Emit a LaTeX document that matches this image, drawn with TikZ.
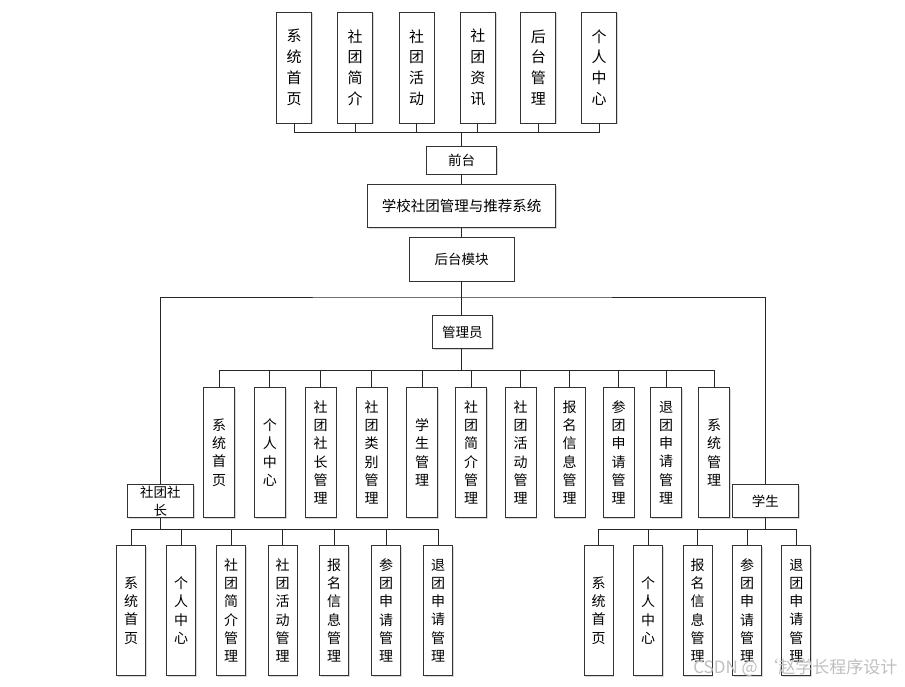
\documentclass[tikz,border=0pt]{standalone}
\usepackage{fontspec}
\setmainfont{Noto Sans CJK SC}
\usetikzlibrary{shadows}

\begin{document}
\begin{tikzpicture}[x=1pt,y=-1pt,
		box/.style={draw=black!80,line width=0.8pt,fill=white,inner sep=0pt,align=center,
			drop shadow={shadow xshift=1.2pt,shadow yshift=-1.2pt,fill=black!30,opacity=0.5}},
		topbox/.style={box,minimum width=35pt,minimum height=111pt,font=\fontsize{15}{20.8}\selectfont},
		subbox/.style={box,minimum width=31pt,minimum height=130pt,font=\fontsize{14}{18.3}\selectfont},
		leafbox/.style={box,minimum width=29pt,minimum height=130pt,font=\fontsize{14}{18.3}\selectfont},
		midbox/.style={box,font=\fontsize{13.5}{18.3}\selectfont},
		wire/.style={draw=black!85,line width=0.9pt}]
	\useasboundingbox (0,0) rectangle (905,686);
	% front end
	\foreach \x/\t [count=\i] in {294/系\\统\\首\\页,355/社\\团\\简\\介,416.7/社\\团\\活\\动,
			477.8/社\\团\\资\\讯,538.3/后\\台\\管\\理,599.2/个\\人\\中\\心}
		\node[topbox] (t\i) at (\x,67.5) {\t};
	\node[midbox,minimum width=70pt,minimum height=27.3pt] (qt) at (461.7,160.3) {前台};
	\node[midbox,minimum width=188pt,minimum height=43.3pt,font=\fontsize{14.5}{18}\selectfont] (xt) at (461.7,206) {学校社团管理与推荐系统};
	\node[midbox,minimum width=104.7pt,minimum height=43.3pt] (hm) at (461.7,259.3) {后台模块};
	\node[midbox,minimum width=60pt,minimum height=32.6pt] (gly) at (462.3,332) {管理员};
	\node[midbox,minimum width=66pt,minimum height=33.4pt] (stz) at (160.3,501) {社团社\\长};
	\node[midbox,minimum width=66pt,minimum height=33.4pt] (xs) at (765.3,501) {学生};
	% admin modules
	\foreach \x/\t [count=\i] in {219/系\\统\\首\\页,269.8/个\\人\\中\\心,320.5/社\\团\\社\\长\\管\\理,
			371.5/社\\团\\类\\别\\管\\理,422/学\\生\\管\\理,471/社\\团\\简\\介\\管\\理,
			520.5/社\\团\\活\\动\\管\\理,569.5/报\\名\\信\\息\\管\\理,618.5/参\\团\\申\\请\\管\\理,
			666/退\\团\\申\\请\\管\\理,714/系\\统\\管\\理}
		\node[subbox] (a\i) at (\x,452.5) {\t};
	% club leader modules
	\foreach \x/\t [count=\i] in {131/系\\统\\首\\页,181/个\\人\\中\\心,231/社\\团\\简\\介\\管\\理,
			282.5/社\\团\\活\\动\\管\\理,334/报\\名\\信\\息\\管\\理,386/参\\团\\申\\请\\管\\理,
			438/退\\团\\申\\请\\管\\理}
		\node[leafbox] (l\i) at (\x,610.5) {\t};
	% student modules
	\foreach \x/\t [count=\i] in {598.7/系\\统\\首\\页,648/个\\人\\中\\心,697.5/报\\名\\信\\息\\管\\理,
			747/参\\团\\申\\请\\管\\理,796.3/退\\团\\申\\请\\管\\理}
		\node[leafbox] (r\i) at (\x,610.5) {\t};
	% buses
	\coordinate (tbus) at (461.7,132);
	\coordinate (mbus) at (461.7,297);
	\coordinate (abus) at (461.7,370.7);
	\coordinate (lbus) at (160.3,529.3);
	\coordinate (rbus) at (765.3,529.3);
	\foreach \i in {1,...,6}
		\draw[wire] (t\i.south) |- (tbus);
	\draw[wire] (tbus) -- (qt.north);
	\draw[wire] (qt.south) -- (xt.north);
	\draw[wire] (xt.south) -- (hm.north);
	\draw[wire] (hm.south) -- (gly.north -| hm.south);
	\draw[wire] (stz.north) |- (mbus) -| (xs.north);
	\draw[wire] (gly.south -| abus) -- (abus);
	\foreach \i in {1,...,11}
		\draw[wire] (abus) -| (a\i.north);
	\draw[wire] (stz.south) -- (lbus);
	\foreach \i in {1,...,7}
		\draw[wire] (lbus) -| (l\i.north);
	\draw[wire] (xs.south) -- (rbus);
	\foreach \i in {1,...,5}
		\draw[wire] (rbus) -| (r\i.north);
	\node[anchor=east,text=black!25,font=\fontsize{17}{17}\selectfont] (wm) at (901,668) {CSDN @ ‘赵学长程序设计};
\end{tikzpicture}
\end{document}
